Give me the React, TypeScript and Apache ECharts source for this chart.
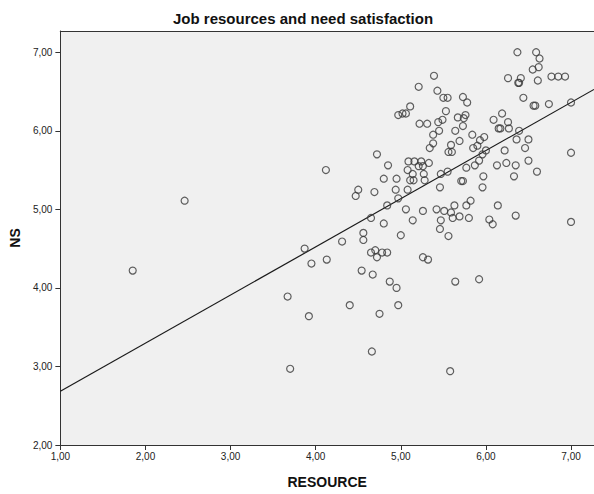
import React, { useEffect, useRef } from "react";
import * as echarts from "echarts";

// Respondent scores: job resources (RESOURCE) vs. need satisfaction (NS)
const resource: number[] = [
  1.85, 2.46, 5.21, 5.11, 5.06, 5.02, 4.97, 5.22, 4.72, 4.12,
  4.85, 5.09, 5.16, 5.24, 5.21, 4.80, 4.95, 5.08, 5.14, 5.11,
  5.15, 4.94, 5.08, 4.50, 4.47, 4.69, 4.97, 4.84, 5.06, 5.26,
  4.65, 5.14, 4.80, 4.56, 4.56, 4.31, 5.00, 3.87, 4.65, 4.70,
  4.72, 4.78, 4.84, 5.26, 4.13, 3.95, 4.54, 4.67, 4.87, 4.95,
  3.67, 4.40, 4.97, 3.92, 4.75, 4.66, 3.70, 6.37, 6.59, 6.63,
  6.55, 6.62, 6.77, 6.85, 6.93, 6.26, 6.41, 6.38, 6.39, 6.61,
  5.39, 5.43, 5.50, 5.55, 5.73, 5.78, 6.44, 6.56, 6.58, 6.74,
  7.00, 5.53, 5.31, 5.44, 5.49, 5.67, 5.74, 5.76, 5.73, 5.64,
  5.45, 5.38, 5.38, 5.34, 6.09, 6.19, 6.26, 6.15, 6.17, 6.27,
  5.84, 5.98, 5.93, 5.69, 5.59, 5.85, 5.90, 5.56, 5.60, 6.00,
  5.96, 6.39, 6.36, 6.50, 6.46, 6.22, 7.00, 5.33, 5.27, 5.28,
  5.47, 5.55, 5.77, 5.87, 5.92, 6.13, 6.24, 6.35, 6.50, 6.60,
  6.33, 5.71, 5.73, 5.97, 5.46, 5.96, 5.42, 5.51, 5.59, 5.61,
  5.69, 5.80, 5.82, 5.77, 5.63, 6.14, 5.47, 6.04, 6.35, 7.00,
  6.08, 5.46, 5.56, 5.32, 5.64, 5.92, 5.58, 5.26,
];

const ns: number[] = [
  4.22, 5.11, 6.56, 6.31, 6.22, 6.22, 6.20, 6.09, 5.70, 5.50,
  5.56, 5.61, 5.61, 5.61, 5.55, 5.39, 5.39, 5.50, 5.45, 5.37,
  5.37, 5.25, 5.25, 5.25, 5.17, 5.22, 5.14, 5.05, 5.00, 4.98,
  4.89, 4.86, 4.82, 4.70, 4.61, 4.59, 4.67, 4.50, 4.45, 4.48,
  4.39, 4.45, 4.45, 4.39, 4.36, 4.31, 4.22, 4.17, 4.08, 4.00,
  3.89, 3.78, 3.78, 3.64, 3.67, 3.19, 2.97, 7.00, 7.00, 6.92,
  6.78, 6.81, 6.69, 6.69, 6.69, 6.67, 6.67, 6.61, 6.61, 6.64,
  6.70, 6.51, 6.42, 6.42, 6.43, 6.36, 6.42, 6.32, 6.32, 6.34,
  6.36, 6.25, 6.09, 6.11, 6.14, 6.17, 6.16, 6.20, 6.06, 6.00,
  6.00, 5.95, 5.84, 5.78, 6.14, 6.22, 6.11, 6.03, 6.03, 6.03,
  5.95, 5.92, 5.88, 5.87, 5.82, 5.78, 5.81, 5.73, 5.73, 5.75,
  5.70, 6.00, 5.89, 5.89, 5.78, 5.75, 5.72, 5.59, 5.45, 5.37,
  5.45, 5.48, 5.53, 5.56, 5.62, 5.56, 5.59, 5.56, 5.62, 5.48,
  5.42, 5.36, 5.36, 5.42, 5.28, 5.28, 5.00, 4.98, 4.96, 4.89,
  4.91, 4.89, 5.11, 5.05, 5.05, 5.05, 4.86, 4.87, 4.92, 4.84,
  4.81, 4.75, 4.66, 4.36, 4.08, 4.11, 2.94, 5.55,
];

// Linear fit: NS = intercept + slope * RESOURCE
const FIT_INTERCEPT = 2.07;
const FIT_SLOPE = 0.613;

const X_MIN = 1;
const X_MAX = 7.27;
const Y_MIN = 2;
const Y_MAX = 7.27;
const X_TICKS = [1, 2, 3, 4, 5, 6, 7];
const Y_TICKS = [2, 3, 4, 5, 6, 7];

const FONT = "'Liberation Sans', Arial, sans-serif";
const INK = "#333333";

const fmt = (v: number) => v.toFixed(2).replace(".", ",");

export default function App() {
  const ref = useRef<HTMLDivElement>(null);

  useEffect(() => {
    if (!ref.current) return;
    const chart = echarts.init(ref.current, undefined, { renderer: "svg" });

    const points = resource.map((x, i) => [x, ns[i]]);
    const fitLine = [
      [X_MIN, FIT_INTERCEPT + FIT_SLOPE * X_MIN],
      [X_MAX, FIT_INTERCEPT + FIT_SLOPE * X_MAX],
    ];

    chart.setOption({
      animation: false,
      backgroundColor: "#ffffff",
      textStyle: { fontFamily: FONT },
      title: {
        text: "Job resources and need satisfaction",
        left: 168,
        top: 6,
        textStyle: {
          fontFamily: FONT,
          fontSize: 15,
          fontWeight: "bold",
          color: "#111",
        },
      },
      grid: {
        left: 52,
        top: 31,
        right: 0,
        bottom: 49,
        show: true,
        backgroundColor: "#f0f0f0",
        borderWidth: 0,
      },
      xAxis: [
        {
          type: "value",
          min: X_MIN,
          max: X_MAX,
          interval: 1,
          name: "RESOURCE",
          nameLocation: "middle",
          nameGap: 30,
          nameTextStyle: {
            fontFamily: FONT,
            fontSize: 14,
            fontWeight: "bold",
            color: "#111",
          },
          splitLine: { show: false },
          axisLine: { show: true, lineStyle: { color: INK, width: 1 } },
          axisTick: {
            show: true,
            inside: false,
            length: 5,
            customValues: X_TICKS,
            lineStyle: { color: INK, width: 1 },
          },
          axisLabel: {
            customValues: X_TICKS,
            formatter: fmt,
            fontFamily: FONT,
            fontSize: 10,
            color: "#222",
            margin: 6,
          },
        },
        {
          type: "value",
          position: "top",
          min: X_MIN,
          max: X_MAX,
          splitLine: { show: false },
          axisLine: { show: true, lineStyle: { color: INK, width: 1.2 } },
          axisTick: { show: false },
          axisLabel: { show: false },
        },
      ],
      yAxis: {
        type: "value",
        min: Y_MIN,
        max: Y_MAX,
        interval: 1,
        name: "NS",
        nameLocation: "middle",
        nameRotate: 90,
        nameGap: 26,
        nameTextStyle: {
          fontFamily: FONT,
          fontSize: 14,
          fontWeight: "bold",
          color: "#111",
        },
        splitLine: { show: false },
        axisLine: { show: true, lineStyle: { color: INK, width: 1 } },
        axisTick: {
          show: true,
          inside: false,
          length: 5,
          customValues: Y_TICKS,
          lineStyle: { color: INK, width: 1 },
        },
        axisLabel: {
          customValues: Y_TICKS,
          formatter: fmt,
          fontFamily: FONT,
          fontSize: 10,
          color: "#222",
          margin: 8,
        },
      },
      series: [
        {
          type: "scatter",
          xAxisIndex: 0,
          data: points,
          symbol: "circle",
          symbolSize: 7,
          itemStyle: {
            color: "rgba(0,0,0,0)",
            borderColor: "#3a3a3a",
            borderWidth: 1.2,
          },
          emphasis: { disabled: true },
          z: 3,
        },
        {
          type: "line",
          xAxisIndex: 0,
          data: fitLine,
          symbol: "none",
          lineStyle: { color: "#1a1a1a", width: 1.2 },
          emphasis: { disabled: true },
          z: 2,
        },
      ],
    });

    return () => chart.dispose();
  }, []);

  return (
    <div
      ref={ref}
      style={{ position: "fixed", left: 0, top: 0, width: 594, height: 494 }}
    />
  );
}
